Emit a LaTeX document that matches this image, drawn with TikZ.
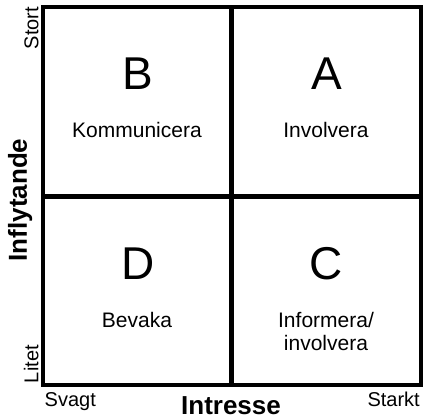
\documentclass[tikz,border=0pt]{standalone}
\usepackage{fontspec}
\setmainfont{Liberation Sans}
\usetikzlibrary{positioning}

\begin{document}
\begin{tikzpicture}[x=1pt, y=-1pt,
  frame/.style={line width=4.5pt},
  letter/.style={font=\fontsize{46}{46}\selectfont, anchor=base, inner sep=0pt},
  action/.style={font=\fontsize{21}{23}\selectfont, anchor=base, inner sep=0pt, align=center},
  level/.style={font=\fontsize{20}{20}\selectfont, inner sep=0pt},
  axis/.style={font=\bfseries\fontsize{26}{26}\selectfont, inner sep=0pt}]
\useasboundingbox (0,0) rectangle (424,419);
\coordinate (nw) at (43,7);
\coordinate (se) at (421,385);
\coordinate (mid) at (231.5,196.5);
\draw[frame] (nw) rectangle (se);
\draw[frame] (nw -| mid) -- (se -| mid);
\draw[frame] (nw |- mid) -- (se |- mid);
% quadrants
\node[letter] (qb) at (138,90) {B};
\node[action] (komm) at (137,138) {Kommunicera};
\node[letter] (qa) at (327,90) {A};
\node[action] (inv) at (326,138) {Involvera};
\node[letter] (qd) at (138,279.5) {D};
\node[action] (bev) at (137,327.3) {Bevaka};
\node[letter] (qc) at (326,279.5) {C};
\node[action] (inf) at (326,350.3) {Informera/\\involvera};
% axes
\node[level, rotate=90, anchor=base east] (stort) at (38.3,6.7) {Stort};
\node[level, rotate=90, anchor=base west] (litet) at (38.3,383.3) {Litet};
\node[axis, rotate=90, anchor=base] (infl) at (27,200) {Inflytande};
\node[level, anchor=base west] (svagt) at (44.5,407) {Svagt};
\node[level, anchor=base east] (starkt) at (420,407) {Starkt};
\node[axis, anchor=base] (intr) at (231,415) {Intresse};
\end{tikzpicture}
\end{document}
